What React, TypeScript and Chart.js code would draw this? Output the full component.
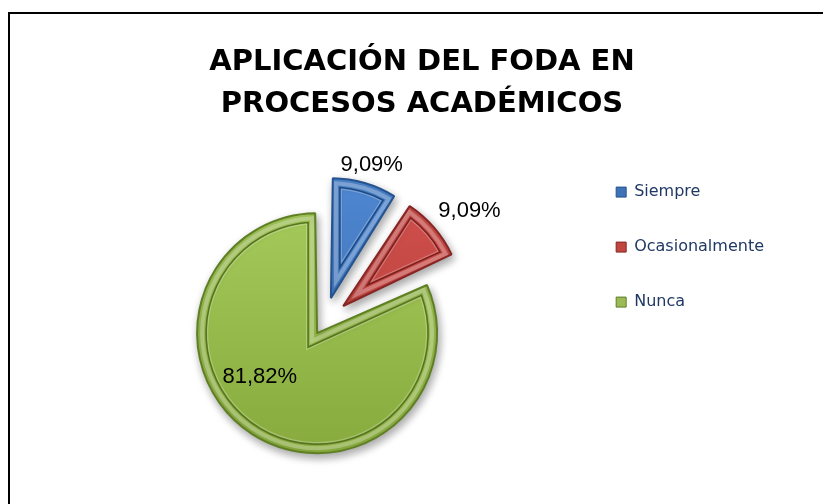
import React, { useEffect, useRef } from "react";
import { Chart, registerables } from "chart.js";

Chart.register(...registerables);

// ---- data ----
const categories: string[] = ["Siempre", "Ocasionalmente", "Nunca"];
const percentages: number[] = [9.09, 9.09, 81.82];
const titleLines: string[] = ["APLICACIÓN DEL FODA EN", "PROCESOS ACADÉMICOS"];

// ---- styles ----
const sliceTop = ["#4F88D2", "#D3524E", "#A6CB5B"];
const sliceBottom = ["#3A6CAF", "#B23B38", "#86A83C"];
const sliceBorder = ["#24538F", "#862523", "#5F7F24"];
const bevelLine = ["#1E4A82", "#7A201E", "#56741F"];
const legendFill = ["#3F73B5", "#C0463F", "#9BBB59"];
const sliceOffset = [104, 104, 48];
const labelPlacement = ["outside", "outside", "inside"];
const labelAngleShift = [0, 0, 20];

const formatPct = (v: number) => v.toFixed(2).replace(".", ",") + "%";

function arcGeom(arc: any) {
  const p = arc.getProps(["x", "y", "startAngle", "endAngle", "outerRadius", "circumference"], true);
  const off = (arc.options.offset || 0) / 4;
  const half = (p.startAngle + p.endAngle) / 2;
  const fix = 1 - Math.sin(Math.min(Math.PI, p.circumference));
  return {
    cx: p.x + Math.cos(half) * off,
    cy: p.y + Math.sin(half) * off,
    r: p.outerRadius + off * fix,
    start: p.startAngle,
    end: p.endAngle,
    half,
    alpha: p.endAngle - p.startAngle,
  };
}

const shadowPlugin = {
  id: "sliceShadow",
  beforeDatasetsDraw(chart: any) {
    const c = chart.ctx;
    c.save();
    c.shadowColor = "rgba(0,0,0,0.35)";
    c.shadowBlur = 8;
    c.shadowOffsetX = 2;
    c.shadowOffsetY = 4;
  },
  afterDatasetsDraw(chart: any) {
    chart.ctx.restore();
  },
};

function insetPath(c: CanvasRenderingContext2D, g: any, d: number) {
  const t = d / Math.sin(g.alpha / 2);
  const px = g.cx + Math.cos(g.half) * t;
  const py = g.cy + Math.sin(g.half) * t;
  const rr = g.r - d;
  const delta = Math.asin(d / rr);
  c.beginPath();
  c.moveTo(px, py);
  c.arc(g.cx, g.cy, rr, g.start + delta, g.end - delta);
  c.closePath();
}

const bevelPlugin = {
  id: "sliceBevel",
  afterDatasetsDraw(chart: any) {
    const meta = chart.getDatasetMeta(0);
    const c = chart.ctx;
    c.save();
    c.lineJoin = "miter";
    meta.data.forEach((arc: any, i: number) => {
      const g = arcGeom(arc);
      insetPath(c, g, 5);
      c.strokeStyle = "rgba(255,255,255,0.28)";
      c.lineWidth = 4;
      c.stroke();
      insetPath(c, g, 9);
      c.strokeStyle = bevelLine[i];
      c.lineWidth = 1.6;
      c.stroke();
      insetPath(c, g, 10.5);
      c.strokeStyle = "rgba(255,255,255,0.25)";
      c.lineWidth = 1.2;
      c.stroke();
    });
    c.restore();
  },
};

const valueLabelPlugin = {
  id: "valueLabels",
  afterDraw(chart: any) {
    const meta = chart.getDatasetMeta(0);
    const c = chart.ctx;
    c.save();
    c.font = "22px 'Liberation Sans'";
    c.fillStyle = "#000000";
    c.textAlign = "center";
    c.textBaseline = "middle";
    meta.data.forEach((arc: any, i: number) => {
      const g = arcGeom(arc);
      const text = formatPct(percentages[i]);
      const mid = g.half + (labelAngleShift[i] * Math.PI) / 180;
      if (labelPlacement[i] === "outside") {
        const w = c.measureText(text).width;
        const h = 22;
        const ax = g.cx + Math.cos(mid) * (g.r + 8);
        const ay = g.cy + Math.sin(mid) * (g.r + 8);
        c.fillText(text, ax + (Math.cos(mid) * w) / 2 - 4 + (i === 1 ? 10 : 0), ay + (Math.sin(mid) * h) / 2 - (i === 1 ? 4 : 0));
      } else {
        c.fillText(text, g.cx + Math.cos(mid) * g.r * 0.6, g.cy + Math.sin(mid) * g.r * 0.6);
      }
    });
    c.restore();
  },
};

export default function App() {
  const canvasRef = useRef<HTMLCanvasElement | null>(null);

  useEffect(() => {
    if (!canvasRef.current) return;
    const chart = new Chart(canvasRef.current, {
      type: "pie",
      data: {
        labels: categories,
        datasets: [
          {
            data: percentages,
            backgroundColor: (ctx: any) => {
              const i = ctx.dataIndex;
              const ca = ctx.chart.chartArea;
              if (!ca) return sliceTop[i];
              const cy = (ca.top + ca.bottom) / 2;
              const g = ctx.chart.ctx.createLinearGradient(0, cy - 135, 0, cy + 135);
              g.addColorStop(0, sliceTop[i]);
              g.addColorStop(1, sliceBottom[i]);
              return g;
            },
            borderColor: sliceBorder,
            borderWidth: 2,
            offset: sliceOffset,
            radius: 108,
            clip: false,
          } as any,
        ],
      },
      options: {
        responsive: false,
        animation: false,
        devicePixelRatio: 1,
        layout: { padding: { left: 70, right: 49, top: 9, bottom: 3 } },
        plugins: {
          title: {
            display: true,
            text: titleLines,
            align: "center",
            color: "#000000",
            font: { family: "'DejaVu Sans'", weight: "bold", size: 29, lineHeight: 1.45 },
            padding: { top: 32, bottom: 20 },
          },
          legend: {
            display: true,
            position: "right",
            align: "start",
            fullSize: false,
            labels: {
              boxWidth: 10,
              boxHeight: 10,
              padding: 39,
              color: "#1F3864",
              font: { family: "'DejaVu Sans'", size: 16 },
              generateLabels: (ch: any) => {
                const base = (Chart as any).overrides.pie.plugins.legend.labels.generateLabels(ch);
                return base.map((it: any, i: number) => ({
                  ...it,
                  fillStyle: legendFill[i],
                  strokeStyle: sliceBorder[i],
                  lineWidth: 1,
                  fontColor: "#1F3864",
                }));
              },
            },
          },
          tooltip: { enabled: false },
        },
      } as any,
      plugins: [shadowPlugin, bevelPlugin, valueLabelPlugin],
    });
    return () => chart.destroy();
  }, []);

  return (
    <div style={{ position: "fixed", left: 0, top: 0, width: 823, height: 504, background: "#ffffff" }}>
      <div
        style={{
          position: "absolute",
          left: 8,
          top: 12,
          width: 900,
          height: 600,
          borderLeft: "2px solid #000000",
          borderTop: "2px solid #000000",
        }}
      />
      <canvas ref={canvasRef} width={823} height={504} style={{ position: "absolute", left: 0, top: 0 }} />
    </div>
  );
}
